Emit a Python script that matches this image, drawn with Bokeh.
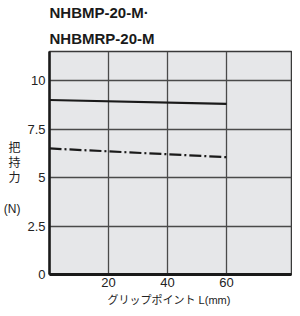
from bokeh.plotting import figure
from bokeh.models import Range1d, FixedTicker, Title
from bokeh.embed import file_html
from bokeh.resources import INLINE

# data
grip_point = [0, 60]
force_solid = [9.0, 8.8]
force_dashdot = [6.5, 6.05]
x_ticks = [20, 40, 60]
y_ticks = [0, 2.5, 5, 7.5, 10]
y_tick_labels = {0: "0", 2.5: "2.5", 5: "5", 7.5: "7.5", 10: "10"}
title_line1 = "NHBMP-20-M·"
title_line2 = "NHBMRP-20-M"
x_label = "グリップポイント  L(mm)"
y_label = "\n\n把\n持\n力\n\n(N)"

MIXED_FONT = "Liberation Sans, Noto Sans CJK JP"

p = figure(width=292, height=308, output_backend="svg", toolbar_location=None,
           x_range=Range1d(0, 82), y_range=Range1d(0, 11.5),
           min_border_left=0, min_border_right=1, min_border_top=0, min_border_bottom=0)

def style_title(t, standoff):
    t.text_font = "Liberation Sans"
    t.text_font_style = "bold"
    t.text_font_size = "15px"
    t.text_color = "#1a1a1a"
    t.align = "left"
    t.standoff = standoff
    t.text_line_height = 1.0

p.title.text = title_line1
style_title(p.title, 3)
t2 = Title(text=title_line2)
style_title(t2, 10)
p.add_layout(t2, "above")

p.background_fill_color = "#e6e7e9"
p.border_fill_color = "white"
p.outline_line_color = "#3a3a3a"
p.outline_line_width = 1.5

# axes
p.xaxis.ticker = FixedTicker(ticks=x_ticks)
p.yaxis.ticker = FixedTicker(ticks=y_ticks)
p.yaxis.major_label_overrides = y_tick_labels
for ax in (p.xaxis[0], p.yaxis[0]):
    ax.major_tick_line_color = None
    ax.minor_tick_line_color = None
    ax.major_tick_out = 0
    ax.major_tick_in = 0
    ax.minor_tick_out = 0
    ax.minor_tick_in = 0
    ax.axis_line_color = "#1a1a1a"
    ax.major_label_text_font = "Liberation Sans"
    ax.major_label_text_font_size = "13px"
    ax.major_label_text_color = "#222222"
    ax.major_label_text_line_height = 1.0
    ax.axis_label_text_font = MIXED_FONT
    ax.axis_label_text_font_style = "normal"
    ax.axis_label_text_color = "#222222"
p.xaxis.axis_line_width = 3
p.yaxis.axis_line_width = 2.5
p.xaxis.major_label_standoff = 3
p.yaxis.major_label_standoff = 4
p.xaxis.axis_label = x_label
p.xaxis.axis_label_text_font_size = "11px"
p.xaxis.axis_label_text_line_height = 1.0
p.xaxis.axis_label_standoff = 4
p.yaxis.axis_label = y_label
p.yaxis.axis_label_orientation = "horizontal"
p.yaxis.axis_label_text_font_size = "12px"
p.yaxis.axis_label_text_line_height = 1.1
p.yaxis.axis_label_standoff = 4

# grid
p.xgrid.ticker = FixedTicker(ticks=x_ticks)
p.ygrid.ticker = FixedTicker(ticks=[2.5, 5, 7.5, 10])
for g in (p.xgrid[0], p.ygrid[0]):
    g.grid_line_color = "#4a4a4a"
    g.grid_line_width = 1.3

# lines
p.line(grip_point, force_solid, line_color="#1a1a1a", line_width=2.2)
p.line(grip_point, force_dashdot, line_color="#1a1a1a", line_width=2.2, line_dash="12 3 2 3")

open("out.html", "w").write(file_html(p, INLINE))
